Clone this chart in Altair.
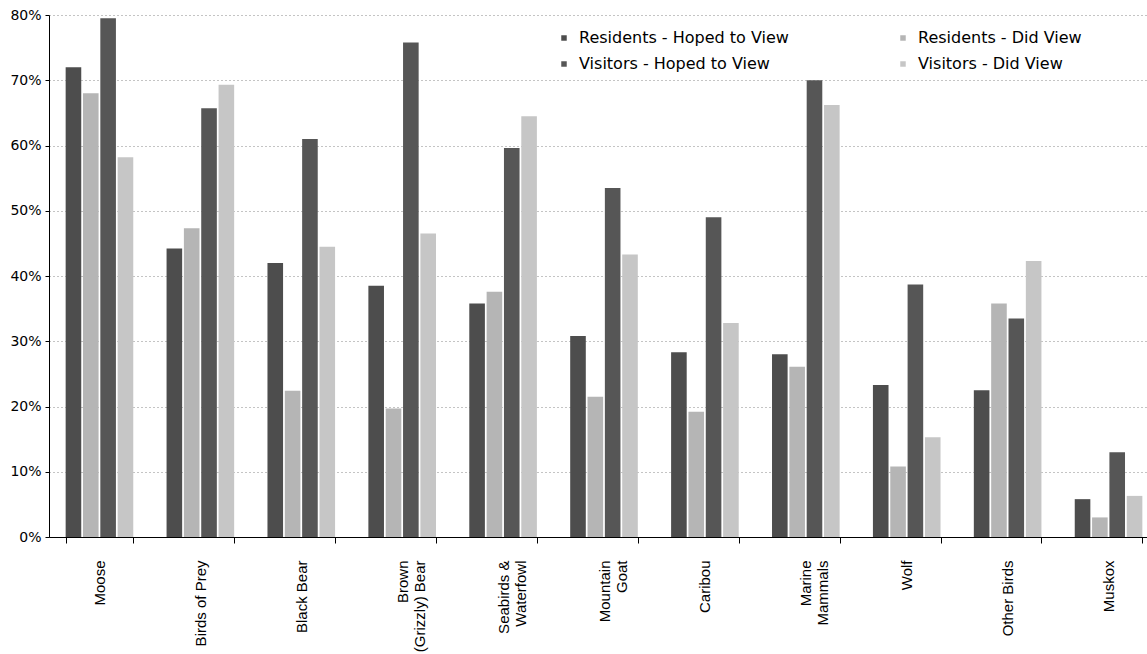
import altair as alt
import pandas as pd

# Wildlife species hoped for vs. actually seen, residents and visitors (%)
categories = [
    "Moose", "Birds of Prey", "Black Bear", "Brown\n(Grizzly) Bear",
    "Seabirds &\nWaterfowl", "Mountain\nGoat", "Caribou", "Marine\nMammals",
    "Wolf", "Other Birds", "Muskox",
]
series = [
    "Residents - Hoped to View",
    "Residents - Did View",
    "Visitors - Hoped to View",
    "Visitors - Did View",
]
residents_hoped = [72.0, 44.2, 42.0, 38.5, 35.8, 30.8, 28.3, 28.0, 23.3, 22.5, 5.8]
residents_did = [68.0, 47.3, 22.4, 19.7, 37.6, 21.5, 19.2, 26.1, 10.8, 35.8, 3.0]
visitors_hoped = [79.5, 65.7, 61.0, 75.8, 59.6, 53.5, 49.0, 70.0, 38.7, 33.5, 13.0]
visitors_did = [58.2, 69.3, 44.5, 46.5, 64.5, 43.3, 32.8, 66.2, 15.3, 42.3, 6.3]
series_colors = ["#4d4d4d", "#b5b5b5", "#565656", "#c6c6c6"]
y_ticks = [0, 10, 20, 30, 40, 50, 60, 70, 80]

rows = []
for name, vals in zip(series, [residents_hoped, residents_did, visitors_hoped, visitors_did]):
    for cat, v in zip(categories, vals):
        rows.append({"animal": cat, "series": name, "pct": v})
df = pd.DataFrame(rows)

chart = (
    alt.Chart(df)
    .mark_bar()
    .encode(
        x=alt.X(
            "animal:N",
            sort=categories,
            scale=alt.Scale(range=[0, 1110], paddingInner=0.33, paddingOuter=0.165),
            axis=alt.Axis(
                title=None,
                labelAngle=-90,
                labelAlign="right",
                labelBaseline="middle",
                labelExpr="split(datum.label, '\\n')",
                labelFont="Liberation Sans",
                labelFontSize=15,
                labelLineHeight=17,
                labelColor="#000000",
                labelPadding=17,
                tickBand="extent",
                tickSize=6,
                tickColor="#000000",
                domainColor="#000000",
                grid=False,
            ),
        ),
        xOffset=alt.XOffset("series:N", sort=series, scale=alt.Scale(paddingInner=0.1)),
        y=alt.Y(
            "pct:Q",
            scale=alt.Scale(domain=[0, 80], nice=False),
            axis=alt.Axis(
                title=None,
                values=y_ticks,
                labelExpr="datum.value + '%'",
                labelFont="DejaVu Sans",
                labelFontSize=14,
                labelColor="#000000",
                labelPadding=4,
                tickSize=4,
                tickColor="#000000",
                domainColor="#000000",
                grid=True,
                gridDash=[1, 3],
                gridColor="#888888",
                gridWidth=1,
            ),
        ),
        color=alt.Color(
            "series:N",
            sort=series,
            scale=alt.Scale(domain=series, range=series_colors),
            legend=alt.Legend(
                title=None,
                orient="none",
                direction="horizontal",
                legendX=507,
                legendY=15,
                columns=2,
                columnPadding=106,
                rowPadding=10,
                symbolType="square",
                symbolSize=30,
                symbolStrokeWidth=0,
                labelFont="DejaVu Sans",
                labelFontSize=16,
                labelColor="#000000",
                labelOffset=7,
                labelLimit=400,
                padding=0,
            ),
        ),
    )
    .properties(
        width=1098,
        height=522,
        padding={"left": 49, "top": 15, "right": 0, "bottom": 117},
        autosize=alt.AutoSizeParams(type="none"),
        background="#ffffff",
    )
    .configure_view(strokeWidth=0)
)

chart.save("out.html", embed_options={"renderer": "svg", "actions": False})
